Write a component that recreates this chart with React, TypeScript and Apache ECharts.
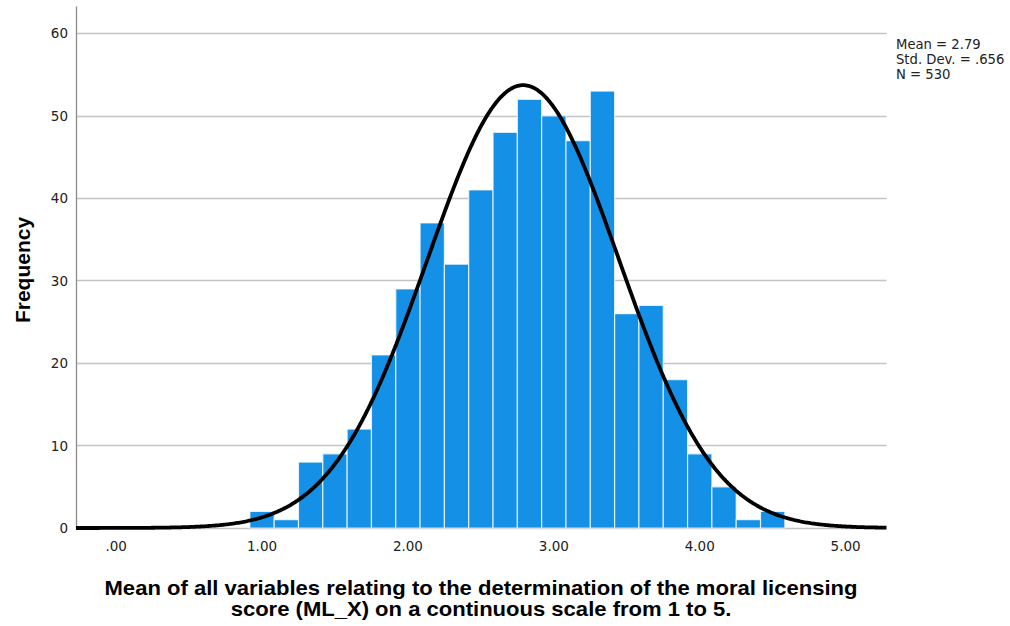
import React, { useEffect, useRef } from "react";
import * as echarts from "echarts";

// Histogram bins: centres (width 1/6) and their frequencies
const binCenters = [
  1.0, 1.1667, 1.3333, 1.5, 1.6667, 1.8333, 2.0, 2.1667, 2.3333, 2.5, 2.6667,
  2.8333, 3.0, 3.1667, 3.3333, 3.5, 3.6667, 3.8333, 4.0, 4.1667, 4.3333, 4.5,
];
const binCounts = [
  2, 1, 8, 9, 12, 21, 29, 37, 32, 41, 48, 52, 50, 47, 53, 26, 27, 18, 9, 5, 1, 2,
];
const binWidth = 1 / 6;

// Summary statistics shown beside the plot
const statMean = 2.79;
const statSd = 0.656;
const statN = 530;

const xTickValues = [0, 1, 2, 3, 4, 5];
const yTickValues = [0, 10, 20, 30, 40, 50, 60];

const xMin = -0.275;
const xMax = 5.28;
const yMax = 63.2;

const xTitleLines = [
  "Mean of all variables relating to the determination of the moral licensing",
  "score (ML_X) on a continuous scale from 1 to 5.",
];

// Normal curve scaled to the histogram (N * bin width * density)
function normalCurve(): [number, number][] {
  const pts: [number, number][] = [];
  const steps = 600;
  for (let i = 0; i <= steps; i++) {
    const x = xMin + ((xMax - xMin) * i) / steps;
    const z = (x - statMean) / statSd;
    const y =
      (statN * binWidth * Math.exp(-0.5 * z * z)) / (statSd * Math.sqrt(2 * Math.PI));
    pts.push([x, y]);
  }
  return pts;
}

export default function App() {
  const ref = useRef<HTMLDivElement>(null);

  useEffect(() => {
    if (!ref.current) return;
    const chart = echarts.init(ref.current, undefined, { renderer: "svg" });
    const font = "Arial, 'Liberation Sans', sans-serif";
    const smallFont = "'DejaVu Sans', sans-serif";

    chart.setOption({
      animation: false,
      backgroundColor: "#ffffff",
      grid: { left: 76, top: 7, right: 1010 - 886.5, bottom: 626 - 528, containLabel: false },
      xAxis: {
        type: "value",
        min: xMin,
        max: xMax,
        axisLine: { show: false },
        axisTick: { show: false, customValues: xTickValues },
        splitLine: { show: false },
        axisLabel: {
          customValues: xTickValues,
          margin: 11,
          color: "#222",
          fontSize: 13.5,
          fontFamily: smallFont,
          formatter: (v: number) => (v === 0 ? ".00" : v.toFixed(2)),
        },
      },
      yAxis: {
        type: "value",
        min: 0,
        max: yMax,
        axisLine: { show: true, onZero: false, lineStyle: { color: "#8c8c8c", width: 1.3 } },
        axisTick: { show: false, customValues: yTickValues },
        splitLine: { show: true, lineStyle: { color: "#c4c4c4", width: 1.3 } },
        axisLabel: {
          customValues: yTickValues,
          margin: 8,
          color: "#222",
          fontSize: 13.5,
          fontFamily: smallFont,
        },
      },
      graphic: [
        {
          type: "text",
          x: 22,
          y: 270,
          rotation: Math.PI / 2,
          style: {
            text: "Frequency",
            fill: "#000",
            font: `bold 21px ${font}`,
            textAlign: "center",
            textVerticalAlign: "middle",
          },
        },
        {
          type: "text",
          x: 481,
          y: 588,
          scaleX: 1.05,
          style: {
            text: xTitleLines[0],
            fill: "#000",
            font: `bold 21px ${font}`,
            textAlign: "center",
            textVerticalAlign: "middle",
          },
        },
        {
          type: "text",
          x: 481,
          y: 609,
          scaleX: 1.05,
          style: {
            text: xTitleLines[1],
            fill: "#000",
            font: `bold 21px ${font}`,
            textAlign: "center",
            textVerticalAlign: "middle",
          },
        },
        {
          type: "text",
          x: 896,
          y: 37,
          style: {
            text: `Mean = ${statMean}\nStd. Dev. = ${String(statSd).replace(/^0/, "")}\nN = ${statN}`,
            fill: "#222",
            font: `13.2px ${smallFont}`,
            lineHeight: 15,
            textVerticalAlign: "top",
          },
        },
      ],
      series: [
        {
          type: "custom",
          data: binCenters.map((c, i) => [c, binCounts[i]]),
          encode: { x: 0, y: 1 },
          z: 2,
          renderItem: (params: any, api: any) => {
            const c = api.value(0);
            const n = api.value(1);
            const p0 = api.coord([c - binWidth / 2, n]);
            const p1 = api.coord([c + binWidth / 2, 0]);
            return {
              type: "rect",
              shape: { x: p0[0], y: p0[1], width: p1[0] - p0[0], height: p1[1] - p0[1] },
              style: { fill: "#1490e6", stroke: "rgba(255,255,255,0.75)", lineWidth: 1.2 },
            };
          },
        },
        {
          type: "line",
          data: normalCurve(),
          showSymbol: false,
          symbol: "none",
          z: 3,
          lineStyle: { color: "#000", width: 3.8 },
        },
      ],
    });

    return () => chart.dispose();
  }, []);

  return (
    <div
      ref={ref}
      style={{ position: "fixed", left: 0, top: 0, width: 1010, height: 626 }}
    />
  );
}
